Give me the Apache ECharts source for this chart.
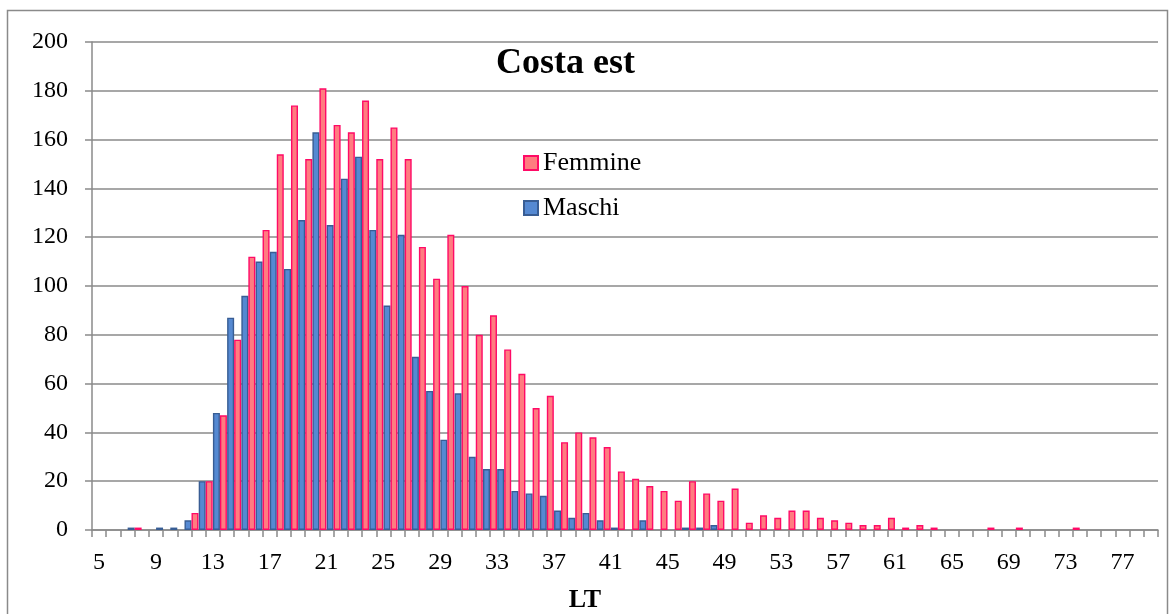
<!DOCTYPE html>
<html>
<head>
<meta charset="utf-8">
<script src="https://cdn.jsdelivr.net/npm/echarts@6/dist/echarts.min.js"></script>
<style>
  html, body { margin: 0; padding: 0; background: #fff; }
  #chart { width: 1176px; height: 614px; }
</style>
</head>
<body>
<div id="chart"></div>
<script>
// LT classes shown on the category axis (labels every 4th class)
const ltClasses = [5,6,7,8,9,10,11,12,13,14,15,16,17,18,19,20,21,22,23,24,25,26,27,28,29,30,
  31,32,33,34,35,36,37,38,39,40,41,42,43,44,45,46,47,48,49,50,51,52,53,54,55,56,57,58,59,60,
  61,62,63,64,65,66,67,68,69,70,71,72,73,74,75,76,77,78,79];

// Bar slots: each pair of bars sits on the boundary at the left edge of a class
const barSlots = [5,6,7,8,9,10,11,12,13,14,15,16,17,18,19,20,21,22,23,24,25,26,27,28,29,30,
  31,32,33,34,35,36,37,38,39,40,41,42,43,44,45,46,47,48,49,50,51,52,53,54,55,56,57,58,59,60,
  61,62,63,64,65,66,67,68,69,70,71,72,73,74,75,76,77,78,79,80];

// Counts per slot
const maschi = [0,0,0,1,0,1,1,4,20,48,87,96,110,114,107,127,163,125,144,153,123,92,121,71,57,37,
  56,30,25,25,16,15,14,8,5,7,4,1,0,4,0,0,1,1,2,
  0,0,0,0,0,0,0,0,0,0,0,0,0,0,0,0,0,0,0,0,0,0,0,0,0,0,0,0,0,0,0];

const femmine = [0,0,0,1,0,0,0,7,20,47,78,112,123,154,174,152,181,166,163,176,152,165,152,116,103,121,
  100,80,88,74,64,50,55,36,40,38,34,24,21,18,16,12,20,15,12,17,3,6,5,8,8,5,4,3,2,2,5,1,2,1,
  0,0,0,1,0,1,0,0,0,1,0,0,0,0,0,0];

const yTicks = { min: 0, max: 200, interval: 20 };

const FONT = '"Liberation Serif", "DejaVu Serif", serif';
const GRID_GRAY = '#8a8a8a';

// empty classes draw no bar at all
const asBars = arr => arr.map(v => (v === 0 ? null : v));

const chart = echarts.init(document.getElementById('chart'), null, { renderer: 'canvas' });

chart.setOption({
  animation: false,
  backgroundColor: '#ffffff',
  title: {
    text: 'Costa est',
    left: 496,
    top: 46,
    padding: 0,
    textStyle: { fontFamily: FONT, fontSize: 36, fontWeight: 'bold', color: '#000' }
  },
  legend: {
    data: ['Femmine', 'Maschi'],
    orient: 'vertical',
    icon: 'rect',
    left: 523,
    top: 150,
    padding: 0,
    itemWidth: 14,
    itemHeight: 14,
    itemGap: 19,
    textStyle: { fontFamily: FONT, fontSize: 26, color: '#000' }
  },
  grid: { left: 92, right: 18, top: 42, bottom: 84, containLabel: false, outerBoundsMode: 'none' },
  xAxis: [
    {
      type: 'category',
      data: ltClasses,
      boundaryGap: true,
      name: 'LT',
      nameLocation: 'middle',
      nameGap: 57,
      nameTextStyle: { fontFamily: FONT, fontSize: 26, fontWeight: 'bold', color: '#000', padding: [0, 80, 0, 0] },
      axisLine: { lineStyle: { color: GRID_GRAY, width: 1.5 } },
      axisTick: { show: true, interval: 0, length: 7, lineStyle: { color: GRID_GRAY, width: 1.5 } },
      axisLabel: { interval: 3, margin: 21, fontFamily: FONT, fontSize: 24, color: '#000' },
      splitLine: { show: false }
    },
    {
      type: 'category',
      data: barSlots,
      boundaryGap: false,
      show: false
    }
  ],
  yAxis: {
    type: 'value',
    min: yTicks.min,
    max: yTicks.max,
    interval: yTicks.interval,
    axisLine: { show: true, lineStyle: { color: GRID_GRAY, width: 1.5 } },
    axisTick: { show: true, length: 7, lineStyle: { color: GRID_GRAY, width: 1.5 } },
    axisLabel: { margin: 24, fontFamily: FONT, fontSize: 24, color: '#000' },
    splitLine: { show: true, lineStyle: { color: GRID_GRAY, width: 1.5 } }
  },
  series: [
    {
      name: 'Maschi',
      type: 'bar',
      xAxisIndex: 1,
      data: asBars(maschi),
      barWidth: 7,
      barGap: '0%',
      clip: true,
      itemStyle: { color: '#5589d2', borderColor: '#385d94', borderWidth: 1.4 }
    },
    {
      name: 'Femmine',
      type: 'bar',
      xAxisIndex: 1,
      data: asBars(femmine),
      barWidth: 7,
      barGap: '0%',
      clip: true,
      itemStyle: { color: '#ff7c80', borderColor: '#ff0a66', borderWidth: 1.4 }
    }
  ],
  graphic: [
    {
      type: 'rect',
      silent: true,
      shape: { x: 7.5, y: 10.5, width: 1160, height: 620 },
      style: { fill: null, stroke: '#8a8a8a', lineWidth: 1.5 }
    }
  ]
});
</script>
</body>
</html>
